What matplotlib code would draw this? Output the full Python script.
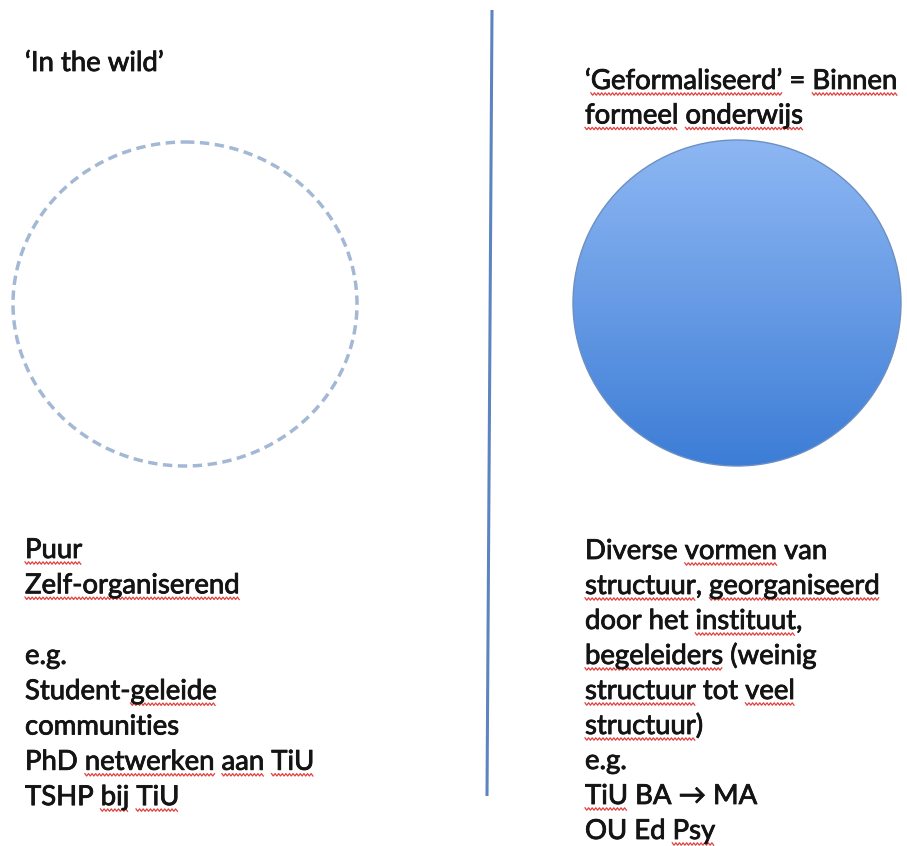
import numpy as np
import matplotlib
matplotlib.use("Agg")
import matplotlib.pyplot as plt
import matplotlib.patheffects as pe
from matplotlib.patches import Ellipse
from matplotlib.colors import LinearSegmentedColormap

# --- teksten (links / rechts) ---
left_title = ["\u2018In the wild\u2019"]
right_title = ["\u2018Geformaliseerd\u2019 = Binnen", "formeel onderwijs"]
left_body = ["Puur", "Zelf-organiserend", "", "e.g.", "Student-geleide",
             "communities", "PhD netwerken aan TiU", "TSHP bij TiU"]
right_body = ["Diverse vormen van", "structuur, georganiseerd",
              "door het instituut,", "begeleiders (weinig",
              "structuur tot veel", "structuur)", "e.g.",
              "TiU BA \u2192 MA", "OU Ed Psy"]

# woorden met rode kringel, per regel
squiggles = {
    "\u2018Geformaliseerd\u2019 = Binnen": ["Geformaliseerd\u2019", "Binnen"],
    "formeel onderwijs": ["formeel", "onderwijs"],
    "Puur": ["Puur"],
    "Zelf-organiserend": ["Zelf-organiserend"],
    "Student-geleide": ["geleide"],
    "PhD netwerken aan TiU": ["netwerken", "aan", "TiU"],
    "TSHP bij TiU": ["bij", "TiU"],
    "Diverse vormen van": ["vormen"],
    "structuur, georganiseerd": ["structuur", "georganiseerd"],
    "door het instituut,": ["instituut"],
    "begeleiders (weinig": ["begeleiders"],
    "structuur tot veel": ["structuur", "veel"],
    "structuur)": ["structuur"],
    "TiU BA \u2192 MA": ["TiU"],
    "OU Ed Psy": ["Psy"],
}

W, H = 907, 846
fig = plt.figure(figsize=(W / 100, H / 100), dpi=100)
ax = fig.add_axes([0, 0, 1, 1])
ax.set_xlim(0, W)
ax.set_ylim(H, 0)
ax.axis("off")

FONT = ["Lato", "DejaVu Sans"]
FS = 19.8
TXT = "#141414"
# tekst iets zwaarder maken, zoals in het origineel
heavier = [pe.withStroke(linewidth=0.6, foreground=TXT)]

# scheidingslijn
ax.plot([492, 487], [10, 796], color="#5b84c0", lw=2.2, solid_capstyle="butt")

# gestippelde cirkel links
dash = Ellipse((185, 304), 344, 324, fill=False, edgecolor="#a2b8d4", lw=2.5,
               linestyle=(0, (2.7, 1.6)))
ax.add_patch(dash)

# gevulde cirkel rechts met verloop
cmap = LinearSegmentedColormap.from_list("blauw", ["#8db7f3", "#679be5", "#3c7dd6"])
grad = np.linspace(0, 1, 256).reshape(-1, 1)
im = ax.imshow(grad, cmap=cmap, extent=[573, 901, 466, 140], aspect="auto",
               interpolation="bilinear", zorder=1)
clip = Ellipse((737, 303), 328, 326, transform=ax.transData)
im.set_clip_path(clip)
solid = Ellipse((737, 303), 328, 326, facecolor="none", edgecolor="#6d8fc2",
                lw=1.0, zorder=2)
ax.add_patch(solid)
ax.set_xlim(0, W)
ax.set_ylim(H, 0)

renderer = fig.canvas.get_renderer()


def text_width(s):
    t = ax.text(0, 0, s, fontsize=FS, family=FONT)
    w = t.get_window_extent(renderer).width
    t.remove()
    return w


def wavy(x0, x1, y):
    xs = np.arange(x0, x1 + 0.1, 1.8)
    ys = y + np.where(np.arange(len(xs)) % 2 == 0, -1.2, 1.2)
    ax.plot(xs, ys, color="#e0413d", lw=0.9, zorder=4)


def draw_lines(lines, x, y0, step):
    for i, line in enumerate(lines):
        y = y0 + i * step
        if not line:
            continue
        ax.text(x, y, line, fontsize=FS, family=FONT, color=TXT, va="baseline",
                ha="left", zorder=5, path_effects=heavier)
        start = 0
        for word in squiggles.get(line, []):
            idx = line.index(word, start)
            start = idx + len(word)
            full = text_width(line[:idx + len(word)])
            wl = text_width(word)
            wavy(x + full - wl, x + full, y + 5)


draw_lines(left_title, 25, 71, 35)
draw_lines(right_title, 585, 89, 34.5)
draw_lines(left_body, 25, 558, 35.3)
draw_lines(right_body, 585, 559, 35)

fig.savefig("out.png", dpi=100)
